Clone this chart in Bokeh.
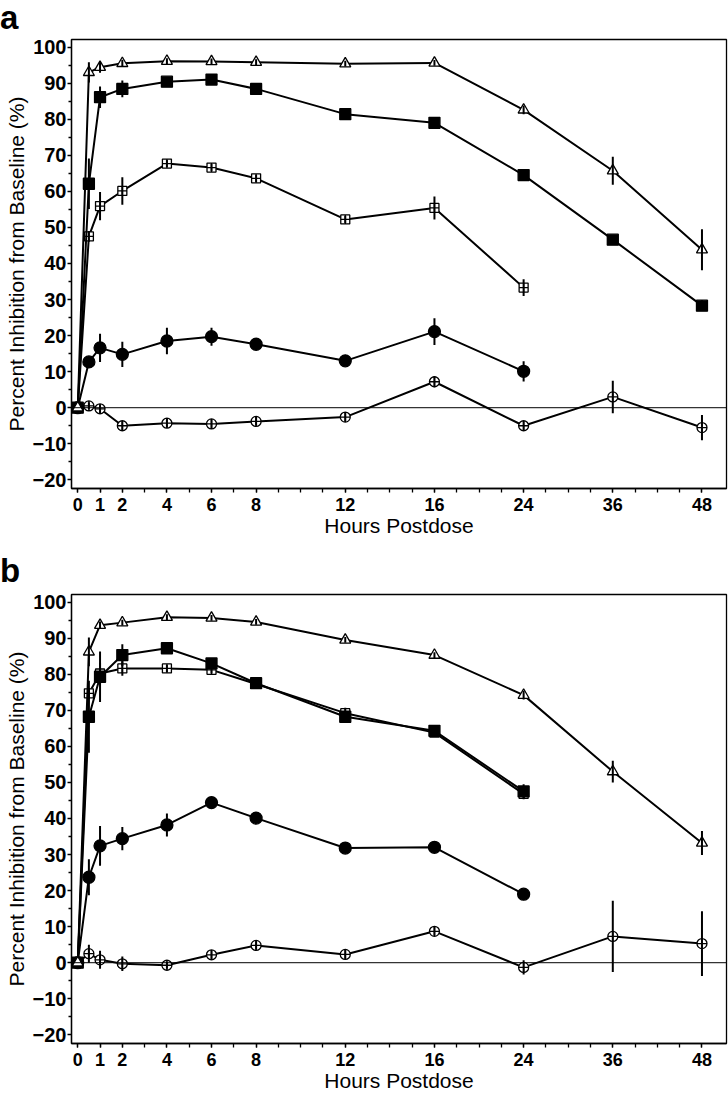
import numpy as np
from bokeh.plotting import figure
from bokeh.models import FixedTicker, Span, Range1d, Div
from bokeh.layouts import column
from bokeh.embed import file_html
from bokeh.resources import INLINE

# ---------------- data ----------------
hours_full = [0, 0.5, 1, 2, 4, 6, 8, 12, 16, 24, 36, 48]
hours_24 = [0, 0.5, 1, 2, 4, 6, 8, 12, 16, 24]

tick_hours = [0, 1, 2, 4, 6, 8, 12, 16, 24, 36, 48]
tick_labels = ["0", "1", "2", "4", "6", "8", "12", "16", "24", "36", "48"]
minor_hours = [0, 1, 2, 3, 4, 5, 6, 7, 8, 9, 10, 11, 12, 13, 14, 15, 16,
               18, 20, 22, 24, 27, 30, 33, 36, 39, 42, 45, 48, 51]

# panel a
a_tri = [0, 93.0, 94.4, 95.5, 96.1, 96.0, 95.8, 95.4, 95.6, 82.6, 65.7, 43.8]
a_tri_err = [0, 2.8, 1.5, 1.0, 0.8, 0.8, 0.8, 0.8, 0.8, 1.2, 3.9, 5.7]
a_sqf = [0, 62.1, 86.1, 88.4, 90.4, 91.0, 88.4, 81.4, 79.0, 64.5, 46.6, 28.3]
a_sqf_err = [0, 7.0, 3.0, 2.3, 1.0, 1.0, 1.0, 1.0, 1.0, 1.0, 1.0, 1.5]
a_sqo = [0, 47.5, 55.9, 60.1, 67.7, 66.6, 63.6, 52.2, 55.4, 33.3]
a_sqo_err = [0, 1.5, 3.9, 3.8, 1.0, 1.0, 1.0, 1.0, 3.2, 2.3]
a_cif = [0, 12.7, 16.6, 14.8, 18.5, 19.7, 17.6, 13.0, 21.1, 10.1]
a_cif_err = [0, 1.5, 3.9, 3.5, 3.7, 2.5, 1.5, 1.0, 3.7, 2.8]
a_cio = [0, 0.5, -0.3, -5.0, -4.3, -4.5, -3.8, -2.6, 7.2, -5.0, 3.0, -5.5]
a_cio_err = [0, 1.0, 1.2, 1.2, 1.2, 1.2, 1.2, 1.2, 1.5, 1.2, 4.5, 3.5]

# panel b
b_tri = [0, 86.2, 93.6, 94.3, 95.8, 95.6, 94.5, 89.5, 85.3, 74.2, 53.0, 33.2]
b_tri_err = [0, 4.0, 1.0, 0.8, 0.8, 0.8, 0.8, 0.8, 0.8, 1.2, 3.0, 3.3]
b_sqf = [0, 68.2, 79.3, 85.3, 87.2, 83.0, 77.5, 68.2, 64.3, 47.5]
b_sqf_err = [0, 10.0, 7.0, 3.0, 1.0, 1.0, 1.0, 1.5, 1.0, 2.0]
b_sqo = [0, 74.7, 80.2, 81.6, 81.6, 81.2, 77.3, 69.2, 63.8, 46.8]
b_sqo_err = [0, 1.5, 3.0, 2.0, 1.0, 1.0, 1.0, 1.5, 1.0, 1.5]
b_cif = [0, 23.7, 32.4, 34.4, 38.2, 44.4, 40.1, 31.8, 32.0, 19.0]
b_cif_err = [0, 5.0, 5.5, 3.2, 3.2, 1.0, 1.5, 0.8, 0.8, 0.8]
b_cio = [0, 2.5, 0.8, -0.3, -0.7, 2.2, 4.8, 2.3, 8.7, -1.3, 7.3, 5.3]
b_cio_err = [0, 2.5, 2.5, 2.0, 1.0, 1.2, 1.2, 1.2, 1.2, 2.0, 9.9, 9.0]

# broken time axis: hours -> axis position
BREAK_H = [0, 16, 24, 48]
BREAK_X = [0, 16, 20, 28]


def hx(h):
    return np.interp(np.asarray(h, dtype=float), BREAK_H, BREAK_X)


FONT = "Liberation Sans"
W = 728


def make_panel(series, height, top, bottom):
    p = figure(width=W, height=height,
               x_range=Range1d(-0.28, 29.1), y_range=Range1d(-22.4, 102.1),
               output_backend="svg", toolbar_location=None,
               min_border_left=71, min_border_right=2,
               min_border_top=top, min_border_bottom=bottom)
    p.xgrid.visible = False
    p.ygrid.visible = False
    p.outline_line_color = "black"
    p.outline_line_width = 1.3
    p.background_fill_color = "white"
    p.border_fill_color = "white"

    major_x = [float(v) for v in hx(tick_hours)]
    minor_x = [float(v) for v in hx(minor_hours)]
    p.xaxis.ticker = FixedTicker(ticks=major_x, minor_ticks=minor_x)
    p.xaxis.major_label_overrides = {mx: lab for mx, lab in zip(major_x, tick_labels)}
    p.yaxis.ticker = FixedTicker(ticks=list(range(-20, 101, 10)),
                                 minor_ticks=list(range(-15, 100, 10)))

    for ax in (p.xaxis, p.yaxis):
        ax.axis_line_color = "black"
        ax.axis_line_width = 1.3
        ax.major_tick_line_color = "black"
        ax.minor_tick_line_color = "black"
        ax.major_tick_line_width = 1.3
        ax.minor_tick_line_width = 1.3
        ax.major_tick_in = 0
        ax.minor_tick_in = 0
        ax.major_label_text_font = FONT
        ax.major_label_text_font_style = "bold"
        ax.major_label_text_color = "black"
        ax.axis_label_text_font = FONT
        ax.axis_label_text_font_style = "normal"
        ax.axis_label_text_color = "black"

    p.xaxis.axis_label_text_font_size = "21px"
    p.yaxis.axis_label_text_font_size = "21px"
    p.xaxis.major_tick_out = 4
    p.xaxis.minor_tick_out = 4
    p.yaxis.major_tick_out = 4
    p.yaxis.minor_tick_out = 3
    p.xaxis.major_label_text_font_size = "18px"
    p.yaxis.major_label_text_font_size = "20px"
    p.xaxis.major_label_standoff = 5
    p.yaxis.major_label_standoff = 1
    p.xaxis.axis_label_standoff = 0
    p.yaxis.axis_label_standoff = 2
    p.xaxis.axis_label = "Hours Postdose"
    p.yaxis.axis_label = "Percent Inhibition from Baseline (%)"

    p.add_layout(Span(location=0, dimension="width", line_color="black", line_width=1))

    for hrs, vals, errs, marker, fill, size in series:
        xs = hx(hrs)
        ys = np.asarray(vals, dtype=float)
        es = np.asarray(errs, dtype=float)
        p.line(xs, ys, line_color="black", line_width=2)
        p.scatter(xs, ys, marker=marker, size=size, fill_color=fill,
                  line_color="black", line_width=1.3)
        p.segment(x0=xs, y0=ys - es, x1=xs, y1=ys + es,
                  line_color="black", line_width=2)
    return p


def letter_div(letter, height):
    return Div(text=letter, width=W, height=height,
               styles={"font-family": FONT, "font-weight": "bold",
                       "font-size": "33px", "line-height": "1.1",
                       "color": "black", "margin": "0", "padding": "0"})


series_a = [
    (hours_full, a_cio, a_cio_err, "circle_cross", "white", 10),
    (hours_24, a_cif, a_cif_err, "circle", "black", 12),
    (hours_24, a_sqo, a_sqo_err, "square_cross", "white", 9),
    (hours_full, a_sqf, a_sqf_err, "square", "black", 11),
    (hours_full, a_tri, a_tri_err, "triangle", "white", 11),
]
series_b = [
    (hours_full, b_cio, b_cio_err, "circle_cross", "white", 10),
    (hours_24, b_cif, b_cif_err, "circle", "black", 12),
    (hours_24, b_sqo, b_sqo_err, "square_cross", "white", 9),
    (hours_24, b_sqf, b_sqf_err, "square", "black", 11),
    (hours_full, b_tri, b_tri_err, "triangle", "white", 11),
]

div_a = letter_div("a", 36)
pa = make_panel(series_a, 517, 3, 65)
div_b = letter_div("b", 38)
pb = make_panel(series_b, 506, 3, 54)

layout = column(div_a, pa, div_b, pb, spacing=0)
open("out.html", "w").write(file_html(layout, INLINE))
